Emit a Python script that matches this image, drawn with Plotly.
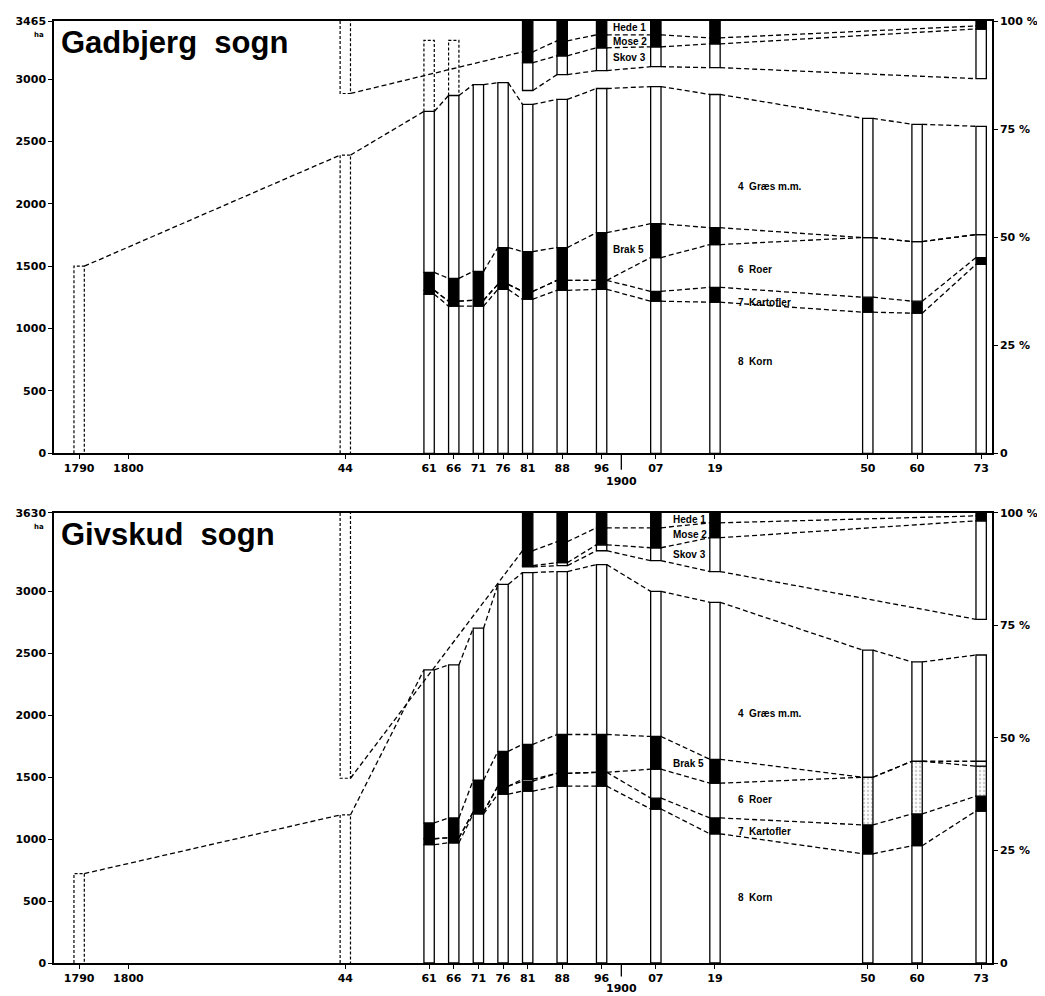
import plotly.graph_objects as go

# ---------------- data ----------------
YEARS = [1861, 1866, 1871, 1876, 1881, 1888, 1896, 1907, 1919, 1950, 1960, 1973]
EARLY_YEARS = [1790, 1844]
TICK_YEARS = [1790, 1800, 1844] + YEARS
TICK_TEXT = ["1790", "1800", "44", "61", "66", "71", "76", "81", "88", "96", "07", "19", "50", "60", "73"]

# Gadbjerg sogn (cumulative upper boundaries, ha)
G_TOTAL = 3465
G_EARLY_CULT = [1500, 2390]
G_1844_HEDE_BOTTOM = 2884
G_DASHED_YEARS = [1861, 1866]
G_DASHED_TOP = 3310
G_KORN = [1275, 1179, 1179, 1314, 1235, 1306, 1314, 1219, 1211, 1131, 1123, 1514]
G_KART = [1306, 1219, 1227, 1354, 1298, 1386, 1386, 1298, 1330, 1251, 1219, 1569]
G_ROER = [1306, 1219, 1227, 1354, 1298, 1386, 1386, 1569, 1673, 1729, 1697, 1753]
G_BRAK = [1450, 1402, 1458, 1649, 1617, 1649, 1768, 1840, 1808, 1729, 1697, 1753]
G_GRAES = [2740, 2868, 2955, 2971, 2796, 2836, 2924, 2939, 2876, 2685, 2637, 2621]
G_SKOV_BOT = [None, None, None, None, 2908, 3035, 3067, 3099, 3091, None, None, 3003]
G_MOSE_BOT = [None, None, None, None, 3131, 3186, 3250, 3258, 3282, None, None, 3401]
G_HEDE_BOT = [None, None, None, None, 3218, 3306, 3354, 3354, 3330, None, None, 3425]

# Givskud sogn
V_TOTAL = 3630
V_EARLY_CULT = [721, 1194]
V_1844_HEDE_BOTTOM = 1490
V_KORN = [954, 970, 1202, 1362, 1386, 1426, 1426, 1242, 1042, 881, 946, 1226]
V_KART = [1002, 1010, 1218, 1426, 1466, 1530, 1538, 1330, 1170, 1114, 1202, 1346]
V_ROER = [1002, 1010, 1218, 1426, 1482, 1530, 1538, 1563, 1450, 1498, 1627, 1587]
V_BRAK = [1130, 1170, 1474, 1707, 1763, 1843, 1843, 1827, 1643, 1498, 1627, 1627]
V_GRAES = [2364, 2404, 2700, 3053, 3149, 3157, 3213, 2997, 2909, 2524, 2428, 2484]
V_SKOV_BOT = [None, None, None, None, 3195, 3205, 3325, 3245, 3157, None, None, 2772]
V_MOSE_BOT = [None, None, None, None, 3205, 3229, 3373, 3349, 3430, None, None, 3566]
V_HEDE_BOT = [None, None, None, None, 3325, 3398, 3510, 3510, 3550, None, None, 3606]

PCT_TICKS = [0, 25, 50, 75, 100]
PCT_TEXT = ["0", "25 %", "50 %", "75 %", "100 %"]

# ---------------- style ----------------
BAR_W = 2.1
HW = BAR_W / 2
FONT = "DejaVu Sans"
TFONT = "Liberation Sans"
DASH = "5px,3px"
DOT = "3px,2px"
XRANGE = [1784.9, 1975.2]

fig = go.Figure()


def seg(lo, hi):
    hs, bs = [], []
    for a, b in zip(lo, hi):
        if a is None or b is None or b - a <= 0:
            hs.append(None)
            bs.append(None)
        else:
            hs.append(b - a)
            bs.append(a)
    return hs, bs


def connect(points):
    pts = [p for p in points if p[1] is not None]
    xs, ys = [], []
    for (x0, v0), (x1, v1) in zip(pts[:-1], pts[1:]):
        xs += [x0 + HW, x1 - HW, None]
        ys += [v0, v1, None]
    return xs, ys


def add_parish(xa, ya, ya2, total, early, hede1844, korn, kart, roer, brak, graes,
               skov, mose, hede, roer_pattern=None, brak_colors="black",
               dashed_years=(), dashed_top=None):
    n = len(YEARS)
    cats = [
        ([0] * n, korn, "white"),
        (korn, kart, "black"),
        (kart, roer, "white"),
        (roer, brak, brak_colors),
        (brak, graes, "white"),
        (skov, mose, "white"),
        (mose, hede, "black"),
        (hede, [total] * n, "black"),
    ]
    for i, (lo, hi, col) in enumerate(cats):
        h, b = seg(lo, hi)
        marker = dict(color=col, line=dict(color="black", width=1.3))
        if i == 2 and roer_pattern is not None:
            marker["pattern"] = dict(shape=roer_pattern, fgcolor="#9a9a9a",
                                     size=4, solidity=0.3)
        fig.add_trace(go.Bar(x=YEARS, y=h, base=b, width=BAR_W, marker=marker,
                             xaxis=xa, yaxis=ya, hoverinfo="skip", showlegend=False))

    # dashed (uncertain) bars
    xs, ys = [], []
    for yr, v in zip(EARLY_YEARS, early):
        xs += [yr - HW, yr - HW, yr + HW, yr + HW, None]
        ys += [0, v, v, 0, None]
    xs += [1844 - HW, 1844 - HW, 1844 + HW, 1844 + HW, None]
    ys += [total, hede1844, hede1844, total, None]
    for yr in dashed_years:
        g = graes[YEARS.index(yr)]
        xs += [yr - HW, yr - HW, yr + HW, yr + HW, None]
        ys += [g, dashed_top, dashed_top, g, None]
    fig.add_trace(go.Scatter(x=xs, y=ys, mode="lines", xaxis=xa, yaxis=ya,
                             line=dict(color="black", width=1.2, dash=DOT),
                             hoverinfo="skip", showlegend=False))

    # connecting dashed lines
    series = [
        list(zip(EARLY_YEARS, early)) + list(zip(YEARS, graes)),
        list(zip(YEARS, korn)),
        list(zip(YEARS, kart)),
        list(zip(YEARS, roer)),
        list(zip(YEARS, brak)),
        [(1844, hede1844)] + list(zip(YEARS, hede)),
        list(zip(YEARS, mose)),
        list(zip(YEARS, skov)),
    ]
    xs, ys = [], []
    for s in series:
        a, b = connect(s)
        xs += a
        ys += b
    fig.add_trace(go.Scatter(x=xs, y=ys, mode="lines", xaxis=xa, yaxis=ya,
                             line=dict(color="black", width=1.3, dash=DASH),
                             hoverinfo="skip", showlegend=False))
    # dummy on percentage axis
    fig.add_trace(go.Scatter(x=[1790], y=[0], mode="markers", marker=dict(opacity=0),
                             xaxis=xa, yaxis=ya2, hoverinfo="skip", showlegend=False))


add_parish("x", "y", "y2", G_TOTAL, G_EARLY_CULT, G_1844_HEDE_BOTTOM,
           G_KORN, G_KART, G_ROER, G_BRAK, G_GRAES, G_SKOV_BOT, G_MOSE_BOT, G_HEDE_BOT,
           dashed_years=G_DASHED_YEARS, dashed_top=G_DASHED_TOP)

v_pattern = ["" if y < 1950 else "." for y in YEARS]
v_brak_col = ["black" if y < 1973 else "white" for y in YEARS]
add_parish("x2", "y3", "y4", V_TOTAL, V_EARLY_CULT, V_1844_HEDE_BOTTOM,
           V_KORN, V_KART, V_ROER, V_BRAK, V_GRAES, V_SKOV_BOT, V_MOSE_BOT, V_HEDE_BOT,
           roer_pattern=v_pattern, brak_colors=v_brak_col)

tickfont = dict(family=FONT, size=11, color="black")
xtick = ["<b>%s</b>" % t for t in TICK_TEXT]


def xaxis(anchor):
    return dict(domain=[0, 1], anchor=anchor, range=XRANGE, tickvals=TICK_YEARS,
                ticktext=xtick, ticks="outside", ticklen=4, tickwidth=1.2,
                tickcolor="black", showline=True, linecolor="black", linewidth=1.5,
                mirror=True, showgrid=False, zeroline=False, tickfont=tickfont)


def yaxis(anchor, dom, total):
    vals = [0, 500, 1000, 1500, 2000, 2500, 3000, total]
    return dict(domain=dom, anchor=anchor, range=[0, total], tickvals=vals,
                ticktext=["<b>%d</b>" % v for v in vals], ticks="outside", ticklen=4,
                tickwidth=1.2, tickcolor="black", showline=True, linecolor="black",
                linewidth=1.5, showgrid=False, zeroline=False, tickfont=tickfont)


def yaxis_pct(anchor, over):
    return dict(overlaying=over, anchor=anchor, side="right", range=[0, 100],
                tickvals=PCT_TICKS, ticktext=["<b>%s</b>" % t for t in PCT_TEXT],
                ticks="outside", ticklen=4, tickwidth=1.2, tickcolor="black",
                showline=True, linecolor="black", linewidth=1.5, showgrid=False,
                zeroline=False, tickfont=tickfont)


TOP_DOM = [0.5411, 1.0]
BOT_DOM = [0.0, 0.4778]

lab = dict(family=TFONT, size=10, color="black")
annotations = []


def title(text, yref):
    annotations.append(dict(text="<b>%s</b>" % text, xref="x domain", yref=yref,
                            x=0, y=1, xanchor="left", yanchor="top", xshift=5, yshift=-2,
                            showarrow=False, font=dict(family=TFONT, size=31, color="black")))
    annotations.append(dict(text="<b>ha</b>", xref="paper", yref=yref, x=0, y=1,
                            xanchor="right", yanchor="top", xshift=-8, yshift=-8,
                            showarrow=False, font=dict(family=FONT, size=7, color="black")))


title("Gadbjerg&nbsp; sogn", "y domain")
title("Givskud&nbsp; sogn", "y3 domain")

TOP_LABELS = [("<b>Hede 1</b>", 1897.9, 3409), ("<b>Mose 2</b>", 1897.9, 3300),
              ("<b>Skov 3</b>", 1897.9, 3170), ("<b>Brak 5</b>", 1897.9, 1633),
              ("<b>4  Græs m.m.</b>", 1923.3, 2135), ("<b>6  Roer</b>", 1923.3, 1474),
              ("<b>7  Kartofler</b>", 1923.3, 1211), ("<b>8  Korn</b>", 1923.3, 733)]
BOT_LABELS = [("<b>Hede 1</b>", 1910.0, 3574), ("<b>Mose 2</b>", 1910.0, 3454),
              ("<b>Skov 3</b>", 1910.0, 3293), ("<b>Brak 5</b>", 1910.0, 1611),
              ("<b>4  Græs m.m.</b>", 1923.3, 2011), ("<b>6  Roer</b>", 1923.3, 1322),
              ("<b>7  Kartofler</b>", 1923.3, 1058), ("<b>8  Korn</b>", 1923.3, 529)]
for t, x, y in TOP_LABELS:
    annotations.append(dict(text=t, x=x, y=y, xref="x", yref="y", xanchor="left",
                            yanchor="middle", showarrow=False, font=lab))
for t, x, y in BOT_LABELS:
    annotations.append(dict(text=t, x=x, y=y, xref="x2", yref="y3", xanchor="left",
                            yanchor="middle", showarrow=False, font=lab))

for xr, yr, shift in (("x", "y domain", -20), ("x2", "y3 domain", -17)):
    annotations.append(dict(text="<b>1900</b>", x=1900, y=0, xref=xr, yref=yr,
                            xanchor="center", yanchor="top", yshift=shift,
                            showarrow=False, font=tickfont))

shapes = [
    dict(type="line", xref="x", yref="y domain", x0=1900, x1=1900, y0=0, y1=-0.038,
         line=dict(color="black", width=1.3)),
    dict(type="line", xref="x2", yref="y3 domain", x0=1900, x1=1900, y0=0, y1=-0.03,
         line=dict(color="black", width=1.3)),
]

# page body adds an 8px offset; size the figure so the plot areas land where the
# reference has them (x 52..995, y 15..963 in the 1045x996 window)
fig.update_layout(
    width=1037, height=988,
    margin=dict(l=44, r=50, t=7, b=33),
    paper_bgcolor="white", plot_bgcolor="white",
    barmode="overlay", showlegend=False,
    xaxis=xaxis("y"), yaxis=yaxis("x", TOP_DOM, G_TOTAL), yaxis2=yaxis_pct("x", "y"),
    xaxis2=xaxis("y3"), yaxis3=yaxis("x2", BOT_DOM, V_TOTAL), yaxis4=yaxis_pct("x2", "y3"),
    annotations=annotations, shapes=shapes,
)

fig.write_html("out.html")
